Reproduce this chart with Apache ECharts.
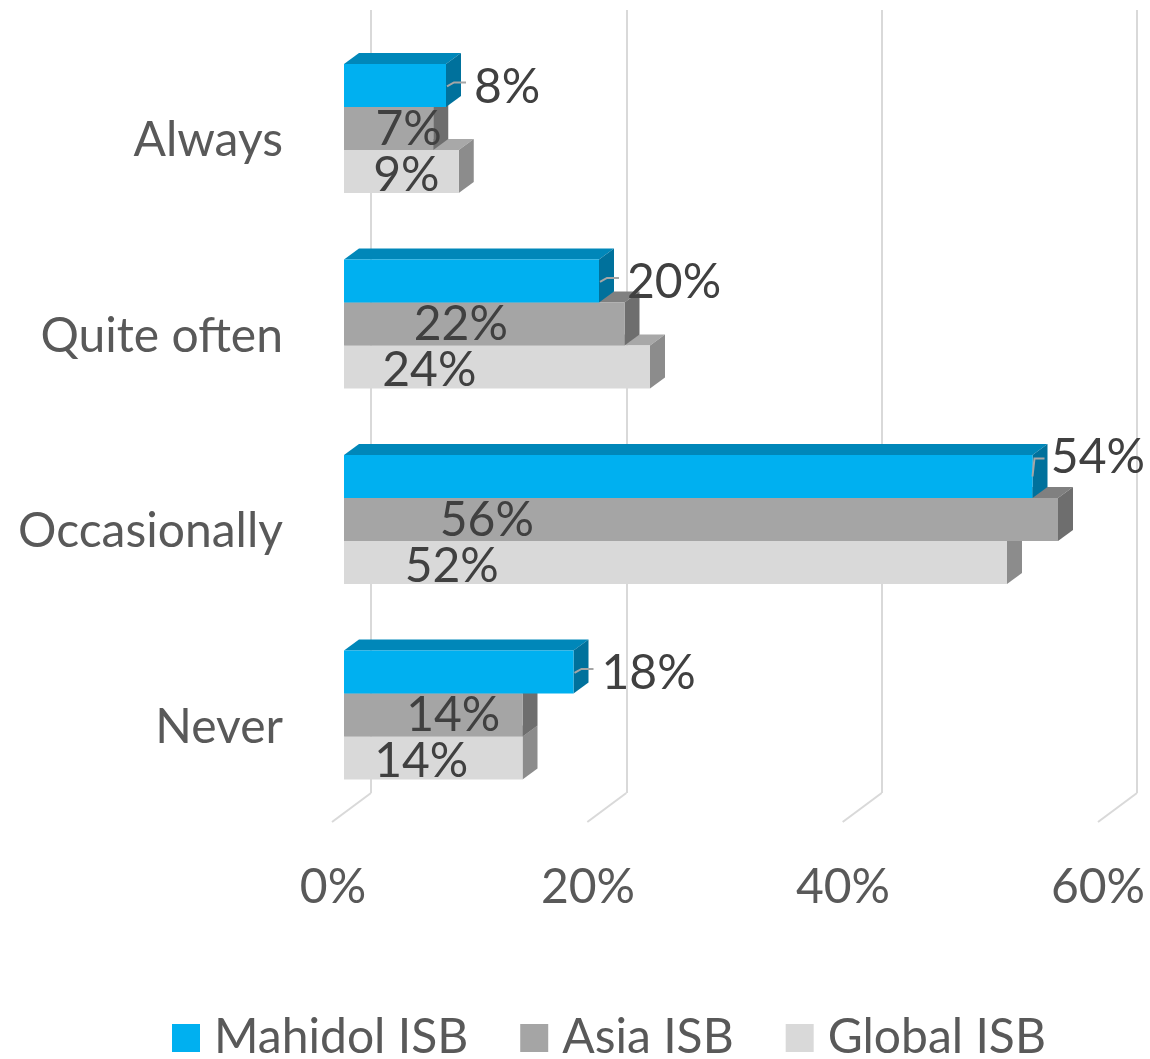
<!DOCTYPE html>
<html><head><meta charset="utf-8">
<script src="https://cdn.jsdelivr.net/npm/echarts@6/dist/echarts.min.js"></script>
<style>html,body{margin:0;padding:0;background:#fff}#c{width:1150px;height:1059px}</style>
</head><body><div id="c"></div>
<script>
const categories = ['Always', 'Quite often', 'Occasionally', 'Never'];
const seriesNames = ['Mahidol ISB', 'Asia ISB', 'Global ISB'];
const mahidol = [8, 20, 54, 18];
const asia = [7, 22, 56, 14];
const globalIsb = [9, 24, 52, 14];
const xTicks = [0, 20, 40, 60];

const FONT = 'Lato';
const FS = 48;
const DX = 15, DY = -11;
const palette = [
  { front: '#00B0F0', top: '#0087B9', side: '#00719C' },
  { front: '#A5A5A5', top: '#808080', side: '#6E6E6E' },
  { front: '#D9D9D9', top: '#A8A8A8', side: '#8C8C8C' }
];
const W = 1150;

function makeRender(si) {
  return function (params, api) {
    const v = api.value(0), c = api.value(1);
    const band = api.size([0, 1])[1];
    const barH = band * 0.22;
    const p0 = api.coord([0, c]);
    const p1 = api.coord([v, c]);
    const x0 = p0[0], x1 = p1[0];
    const yTop = p0[1] + (si - 1.5) * barH;
    const yMid = yTop + barH / 2;
    const col = palette[si];
    const children = [
      { type: 'polygon', shape: { points: [[x0, yTop], [x1, yTop], [x1 + DX, yTop + DY], [x0 + DX, yTop + DY]] }, style: { fill: col.top } },
      { type: 'polygon', shape: { points: [[x1, yTop], [x1 + DX, yTop + DY], [x1 + DX, yTop + DY + barH], [x1, yTop + barH]] }, style: { fill: col.side } },
      { type: 'rect', shape: { x: x0, y: yTop, width: x1 - x0, height: barH }, style: { fill: col.front } }
    ];
    const txt = v + '%';
    if (si === 0) {
      const estW = txt.length * FS * 0.65;
      let tx = x1 + DX + 13;
      if (tx + estW > W - 4) {
        children.push({ type: 'polyline', shape: { points: [[x1, yMid], [x1 + 2, yMid - 18], [x1 + 12, yMid - 18]] }, style: { stroke: '#A6A6A6', lineWidth: 2, fill: null } });
        children.push({ type: 'text', style: { text: txt, x: W - 5, y: yMid - 19, align: 'right', verticalAlign: 'middle', fill: '#404040', fontSize: FS, fontFamily: FONT } });
      } else {
        children.push({ type: 'polyline', shape: { points: [[x1 + 1, yMid + 1], [x1 + 8, yMid - 3], [x1 + 20, yMid - 3]] }, style: { stroke: '#A6A6A6', lineWidth: 2, fill: null } });
        children.push({ type: 'text', style: { text: txt, x: tx, y: yMid + 2, align: 'left', verticalAlign: 'middle', fill: '#404040', fontSize: FS, fontFamily: FONT } });
      }
    } else {
      const len = x1 - x0;
      const off = si === 1 ? Math.min(len / 2 + 20, 100 + 0.06 * len) : Math.min(len / 2 + 5, 66 + 0.063 * len);
      children.push({ type: 'text', style: { text: txt, x: x0 + off, y: yMid + (si === 2 ? 4 : 1), align: 'center', verticalAlign: 'middle', fill: '#404040', fontSize: FS, fontFamily: FONT } });
    }
    return { type: 'group', children: children };
  };
}

const dataSets = [mahidol, asia, globalIsb];
const barSeries = dataSets.map((arr, si) => ({
  name: seriesNames[si],
  type: 'custom',
  xAxisIndex: 0, yAxisIndex: 0,
  z: 10 - si,
  itemStyle: { color: palette[si].front },
  encode: { x: 0, y: 1 },
  data: arr.map((v, i) => [v, i]),
  renderItem: makeRender(si)
}));

const option = {
  animation: false,
  backgroundColor: '#fff',
  legend: {
    data: seriesNames,
    top: 1009,
    left: 167,
    icon: 'rect',
    itemWidth: 28, itemHeight: 28,
    itemGap: 52,
    textStyle: { fontFamily: FONT, fontSize: 48, color: '#595959', padding: [0, 0, 0, 9] }
  },
  grid: [
    { left: 344, top: 30.75, width: 765, height: 782 },
    { left: 371, top: 10, width: 766, height: 783 }
  ],
  xAxis: [
    { gridIndex: 0, type: 'value', min: 0, max: 60, interval: 20,
      axisLine: { show: false }, axisTick: { show: false }, splitLine: { show: false },
      axisLabel: { formatter: '{value}%', fontFamily: FONT, fontSize: FS, color: '#595959', margin: 51, padding: [0, 22, 0, 0] } },
    { gridIndex: 1, type: 'value', min: 0, max: 60, interval: 20,
      axisLine: { show: false }, axisTick: { show: false }, axisLabel: { show: false },
      splitLine: { show: true, lineStyle: { color: '#D9D9D9', width: 2 } } }
  ],
  yAxis: [
    { gridIndex: 0, type: 'category', data: categories, inverse: true,
      axisLine: { show: false }, axisTick: { show: false },
      axisLabel: { formatter: '{a|{value}}', margin: 61,
        rich: { a: { fontFamily: FONT, fontSize: FS, color: '#595959', padding: [25, 0, 0, 0] } } } },
    { gridIndex: 1, type: 'value', min: 0, max: 1, show: false }
  ],
  series: [
    { type: 'custom', xAxisIndex: 1, yAxisIndex: 1, z: 1, silent: true,
      data: xTicks.map(t => [t, 0]),
      renderItem: function (params, api) {
        const p = api.coord([api.value(0), 0]);
        return { type: 'line', shape: { x1: p[0], y1: p[1], x2: p[0] - 39, y2: p[1] + 29 }, style: { stroke: '#D9D9D9', lineWidth: 2 } };
      } }
  ].concat(barSeries)
};
echarts.init(document.getElementById('c')).setOption(option);
</script></body></html>
